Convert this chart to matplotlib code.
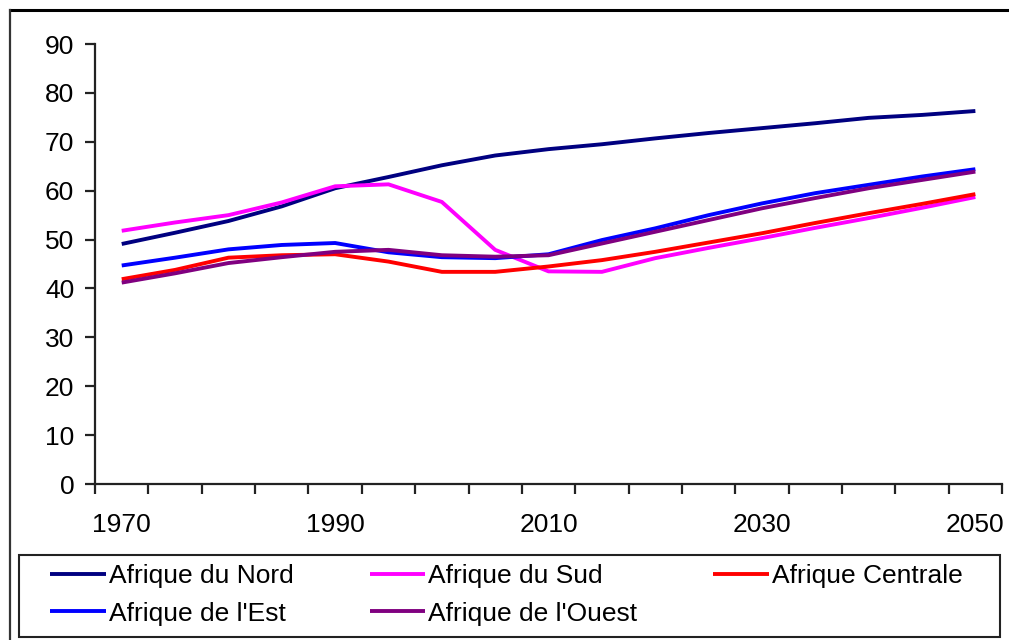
## Esperance de vie par region d'Afrique, 1970-2050

import numpy as np
from matplotlib import pyplot as plt
from matplotlib.lines import Line2D
from matplotlib.patches import Rectangle

years = [1970, 1975, 1980, 1985, 1990, 1995, 2000, 2005, 2010,
         2015, 2020, 2025, 2030, 2035, 2040, 2045, 2050]

nord     = [49.1, 51.4, 53.8, 56.8, 60.5, 62.8, 65.2, 67.2, 68.5,
            69.5, 70.7, 71.8, 72.8, 73.8, 74.9, 75.5, 76.3]
sud      = [51.8, 53.5, 55.0, 57.6, 60.9, 61.3, 57.7, 47.9, 43.5,
            43.4, 46.2, 48.3, 50.3, 52.4, 54.4, 56.5, 58.7]
centrale = [41.9, 43.8, 46.3, 46.8, 47.0, 45.5, 43.4, 43.4, 44.5,
            45.8, 47.5, 49.4, 51.3, 53.4, 55.4, 57.3, 59.3]
est      = [44.7, 46.3, 48.0, 48.9, 49.3, 47.4, 46.4, 46.2, 47.0,
            49.9, 52.3, 55.0, 57.4, 59.5, 61.2, 62.9, 64.4]
ouest    = [41.2, 43.1, 45.2, 46.4, 47.5, 47.9, 46.8, 46.5, 46.8,
            49.2, 51.6, 54.0, 56.4, 58.5, 60.5, 62.2, 63.9]

noms = ["Afrique du Nord", "Afrique du Sud", "Afrique Centrale",
        "Afrique de l'Est", "Afrique de l'Ouest"]
couleurs = ["#000080", "#FF00FF", "#FF0000", "#0000FF", "#800080"]

x_labels = [1970, 1990, 2010, 2030, 2050]
y_ticks = [0, 10, 20, 30, 40, 50, 60, 70, 80, 90]

#------------------------------------------------------------------------------

plt.rcParams['font.family'] = ['Liberation Sans', 'DejaVu Sans']

fig = plt.figure(figsize=(10.09, 6.4), dpi=100)
ax = fig.add_axes([0.0942, 0.2437, 0.8989, 0.6875])

lines = []
for serie, nom, c in zip([nord, sud, centrale, est, ouest], noms, couleurs):
    l, = ax.plot(years, serie, color=c, linewidth=2.8, label=nom,
                 solid_capstyle='butt')
    lines.append(l)

ax.set_xlim(1967.5, 2052.5)
ax.set_ylim(0, 90)
ax.set_yticks(y_ticks)
ax.set_xticks(x_labels)
ax.set_xticks(np.arange(1967.5, 2053, 5), minor=True)

for s in ['top', 'right']:
    ax.spines[s].set_visible(False)
for s in ['left', 'bottom']:
    ax.spines[s].set_linewidth(1.6)
    ax.spines[s].set_color('#222222')

ax.tick_params(axis='y', direction='out', length=7, width=1.6,
               color='#222222', labelsize=19, pad=8)
ax.tick_params(axis='x', which='major', length=0, labelsize=19, pad=21)
ax.tick_params(axis='x', which='minor', direction='out', length=7,
               width=1.6, color='#222222')

# legend, Excel order: row by row
order = [0, 3, 1, 4, 2]
fig.legend([lines[i] for i in order], [noms[i] for i in order],
           loc='upper left', bbox_to_anchor=(0.050, 0.118), ncol=3,
           frameon=False, fontsize=19, handlelength=2.1, handletextpad=0.1,
           columnspacing=2.9, labelspacing=0.5, borderpad=0,
           borderaxespad=0)

fig.patches.append(Rectangle((0.0188, 0.005), 0.9722, 0.128,
                             transform=fig.transFigure, fill=False,
                             edgecolor='#222222', linewidth=1.5))

# outer frame (top and left edges only)
fig.add_artist(Line2D([0.0099, 1.0], [0.984, 0.984], transform=fig.transFigure,
                      color='black', linewidth=2.2))
fig.add_artist(Line2D([0.0099, 0.0099], [0.0, 0.984], transform=fig.transFigure,
                      color='#333333', linewidth=1.6))

plt.savefig('out.png', dpi=100)
